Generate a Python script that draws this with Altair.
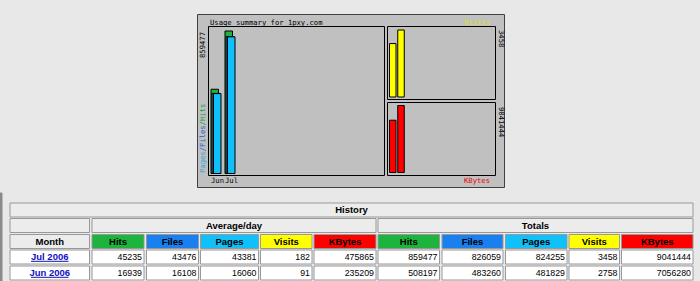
import altair as alt
import pandas as pd

# ---------------- data ----------------
site = "1pxy.com"
months = ["Jul 2006", "Jun 2006"]          # table order
chart_months = ["Jun", "Jul"]              # chart order (chronological)
series = ["Hits", "Files", "Pages", "Visits", "KBytes"]
avg_hits = [45235, 16939]
avg_files = [43476, 16108]
avg_pages = [43381, 16060]
avg_visits = [182, 91]
avg_kbytes = [475865, 235209]
tot_hits = [859477, 508197]
tot_files = [826059, 483260]
tot_pages = [824255, 481829]
tot_visits = [3458, 2758]
tot_kbytes = [9041444, 7056280]

# ---------------- styles ----------------
C_HITS = "#1cb43c"
C_FILES = "#1a80f0"
C_PAGES = "#10c0f8"
C_VISITS = "#ffff00"
C_KBYTES = "#ff0000"
series_colors = [C_HITS, C_FILES, C_PAGES, C_VISITS, C_KBYTES]
PAGE_BG = "#e8e8e8"
CELL_BG = "#ececec"
IMG_BG = "#c0c0c0"
MONO = "DejaVu Sans Mono"
SANS = "Liberation Sans"
FS = 7.2
CW = 0.602 * FS

# ---------------- layout ----------------
col_edges = [(10, 89.5), (92, 144), (146.5, 198.5), (200.5, 258.5), (260.5, 312),
             (314, 376), (378, 439.5), (442, 503), (505.5, 567), (569, 619.5), (621.5, 693)]
row_edges = [(203, 217), (218.5, 232.5), (234.5, 248.5), (250, 264), (266, 280)]

ident = dict(scale=None, axis=None)

def X(f): return alt.X(f + ":Q", **ident)
def Y(f): return alt.Y(f + ":Q", **ident)

# rectangles of the frame and table
rects = []
def add_rect(x, x2, y, y2, fill, stroke):
    rects.append(dict(x=x, x2=x2, y=y, y2=y2, fill=fill, stroke=stroke))

add_rect(0, 2, 193, 281, "#8a8a8a", "#8a8a8a")
add_rect(197.5, 504.5, 14.5, 187.5, IMG_BG, "#404040")
add_rect(208.5, 384.5, 26.5, 175.5, IMG_BG, "#000000")
add_rect(387.5, 495.5, 26.5, 99.5, IMG_BG, "#000000")
add_rect(387.5, 495.5, 102.5, 175.5, IMG_BG, "#000000")

r0 = row_edges[0]
add_rect(col_edges[0][0], col_edges[-1][1], r0[0], r0[1], CELL_BG, "#999999")
r1 = row_edges[1]
add_rect(col_edges[0][0], col_edges[0][1], r1[0], r1[1], CELL_BG, "#999999")
add_rect(col_edges[1][0], col_edges[5][1], r1[0], r1[1], CELL_BG, "#999999")
add_rect(col_edges[6][0], col_edges[10][1], r1[0], r1[1], CELL_BG, "#999999")
r2 = row_edges[2]
add_rect(col_edges[0][0], col_edges[0][1], r2[0], r2[1], CELL_BG, "#999999")
for j in range(10):
    c = col_edges[1 + j]
    add_rect(c[0], c[1], r2[0], r2[1], series_colors[j % 5], "#999999")
for i in range(len(months)):
    r = row_edges[3 + i]
    for c in col_edges:
        add_rect(c[0], c[1], r[0], r[1], "#ffffff", "#999999")

rect_layer = alt.Chart(pd.DataFrame(rects)).mark_rect(strokeWidth=1).encode(
    x=X("x"), x2="x2", y=Y("y"), y2="y2",
    fill=alt.Fill("fill:N", scale=None), stroke=alt.Stroke("stroke:N", scale=None))

# ---------------- chart bars ----------------
cdf = pd.DataFrame({
    "m": chart_months,
    "hits": tot_hits[::-1], "files": tot_files[::-1], "pages": tot_pages[::-1],
    "visits": tot_visits[::-1], "kbytes": tot_kbytes[::-1],
})
max_hits = max(tot_hits)
max_visits = max(tot_visits)
max_kbytes = max(tot_kbytes)

def bars(field, color, xr, yr, dmax, w):
    return alt.Chart(cdf).mark_bar(width=w, fill=color, stroke="black", strokeWidth=1).encode(
        x=alt.X("m:N", scale=alt.Scale(type="point", domain=chart_months, range=xr, padding=0), axis=None),
        y=alt.Y(field + ":Q", scale=alt.Scale(domain=[0, dmax], range=yr, nice=False, zero=True), axis=None),
    )

hits_b = bars("hits", C_HITS, [214.75, 228.75], [173.5, 31], max_hits, 7.5)
files_b = bars("files", C_FILES, [215.75, 229.75], [173.5, 31], max_hits, 7.5)
pages_b = bars("pages", C_PAGES, [217.25, 231.25], [173.5, 31], max_hits, 7.5)
visits_b = bars("visits", C_VISITS, [392.75, 401], [97, 30], max_visits, 6.5)
kbytes_b = bars("kbytes", C_KBYTES, [392.75, 401], [172.5, 105.5], max_kbytes, 6.5)

month_lbl = alt.Chart(cdf).mark_text(font=MONO, fontSize=FS, align="left", baseline="alphabetic", color="black").encode(
    x=alt.X("m:N", scale=alt.Scale(type="point", domain=chart_months, range=[211, 225], padding=0), axis=None),
    y=alt.value(183), text="m:N")

# ---------------- chart texts ----------------
def text_layer(rows, **kw):
    return alt.Chart(pd.DataFrame(rows)).mark_text(**kw).encode(
        x=X("x"), y=Y("y"), text="t:N", color=alt.Color("c:N", scale=None))

t_title = text_layer([dict(x=210, y=24.5, t="Usage summary for " + site, c="black")],
                     font=MONO, fontSize=FS, align="left", baseline="alphabetic")
t_right = text_layer([dict(x=490, y=24.5, t="Visits", c="#e0e000"),
                      dict(x=490, y=183, t="KBytes", c="#ee0000")],
                     font=MONO, fontSize=FS, align="right", baseline="alphabetic")
t_max = text_layer([dict(x=202.5, y=32, t=str(max_hits), c="black")],
                   font=MONO, fontSize=FS, align="right", baseline="middle", angle=270)
t_leg = text_layer([dict(x=202.5, y=173, t="Pages", c="#30a8d8"),
                    dict(x=202.5, y=173 - 5 * CW, t="/Files", c="#2060d0"),
                    dict(x=202.5, y=173 - 11 * CW, t="/Hits", c="#10a040")],
                   font=MONO, fontSize=FS, align="left", baseline="middle", angle=270)
t_rmax = text_layer([dict(x=500.5, y=30, t=str(max_visits), c="black"),
                     dict(x=500.5, y=107, t=str(max_kbytes), c="black")],
                    font=MONO, fontSize=FS, align="left", baseline="middle", angle=90)

# ---------------- table texts ----------------
def cx(c): return (c[0] + c[1]) / 2

hdr = [dict(x=cx((col_edges[0][0], col_edges[-1][1])), y=213, t="History", c="black"),
       dict(x=cx((col_edges[1][0], col_edges[5][1])), y=229, t="Average/day", c="black"),
       dict(x=cx((col_edges[6][0], col_edges[10][1])), y=229, t="Totals", c="black"),
       dict(x=cx(col_edges[0]), y=245, t="Month", c="black")]
for j in range(10):
    hdr.append(dict(x=cx(col_edges[1 + j]), y=245, t=series[j % 5], c="black"))
t_hdr = text_layer(hdr, font=SANS, fontSize=9.5, fontWeight="bold", align="center", baseline="alphabetic")

all_cols = [avg_hits, avg_files, avg_pages, avg_visits, avg_kbytes,
            tot_hits, tot_files, tot_pages, tot_visits, tot_kbytes]
nums = []
links = []
unders = []
for i, m in enumerate(months):
    r = row_edges[3 + i]
    base = r[1] - 4.2
    for j, vals in enumerate(all_cols):
        nums.append(dict(x=col_edges[1 + j][1] - 2, y=base, t=str(vals[i]), c="black"))
    links.append(dict(x=cx(col_edges[0]), y=base, t=m, c="#1010c0"))
    unders.append(dict(x=31, x2=68.5, y=base + 1.5))
t_nums = text_layer(nums, font=SANS, fontSize=8.8, align="right", baseline="alphabetic")
t_links = text_layer(links, font=SANS, fontSize=9.5, fontWeight="bold", align="center", baseline="alphabetic")
u_layer = alt.Chart(pd.DataFrame(unders)).mark_rule(color="#1010c0", strokeWidth=1).encode(
    x=X("x"), x2="x2", y=Y("y"))

chart = alt.layer(
    rect_layer, hits_b, files_b, pages_b, visits_b, kbytes_b, month_lbl,
    t_title, t_right, t_max, t_leg, t_rmax, t_hdr, t_nums, t_links, u_layer
).resolve_scale(x="independent", y="independent").properties(
    width=700, height=281, padding=0,
    autosize=alt.AutoSizeParams(type="none"),
    background=PAGE_BG,
).configure_view(stroke=None)

chart.save("out.html", embed_options={"renderer": "svg", "actions": False})
